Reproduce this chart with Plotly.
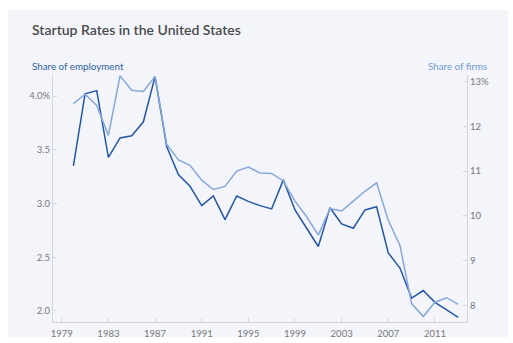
import plotly.graph_objects as go

years = list(range(1980, 2014))
employment_share = [3.35, 4.02, 4.05, 3.43, 3.61, 3.63, 3.76, 4.18, 3.53, 3.27,
                    3.16, 2.98, 3.07, 2.85, 3.07, 3.02, 2.98, 2.95, 3.22, 2.94,
                    2.77, 2.60, 2.96, 2.81, 2.77, 2.94, 2.97, 2.54, 2.40, 2.12,
                    2.19, 2.08, 2.01, 1.94]
firm_share = [12.51, 12.72, 12.47, 11.80, 13.13, 12.81, 12.78, 13.12, 11.60, 11.25,
              11.13, 10.80, 10.59, 10.66, 11.00, 11.09, 10.96, 10.95, 10.78, 10.33,
              9.98, 9.57, 10.16, 10.11, 10.33, 10.55, 10.74, 9.90, 9.34, 8.04,
              7.75, 8.07, 8.17, 8.02]
x_ticks = list(range(1979, 2012, 4))
left_ticks = [2.0, 2.5, 3.0, 3.5, 4.0]
left_labels = ["2.0", "2.5", "3.0", "3.5", "4.0%"]
right_ticks = [8, 9, 10, 11, 12, 13]
right_labels = ["8", "9", "10", "11", "12", "13%"]

W, H = 513, 343
L, R, T, B = 53, 466.7, 75, 321.7
pw, ph = R - L, B - T

def px(x):
    return (x - L) / pw

def py(y):
    return (B - y) / ph

panel = "#f3f5fa"
dark = "#2457a6"
light = "#86a8d8"
axis_col = "#d3d6dd"
tick_font = dict(family="Lato, 'Open Sans', sans-serif", size=9.5, color="#777777")

fig = go.Figure()
fig.add_trace(go.Scatter(x=years, y=firm_share, mode="lines", yaxis="y2",
                         line=dict(color=light, width=1.5), name="Share of firms"))
fig.add_trace(go.Scatter(x=years, y=employment_share, mode="lines", yaxis="y",
                         line=dict(color=dark, width=1.5), name="Share of employment"))

fig.update_layout(
    width=W, height=H,
    margin=dict(l=L, r=W - R, t=T, b=H - B, pad=0, autoexpand=False),
    paper_bgcolor="white",
    plot_bgcolor=panel,
    showlegend=False,
    xaxis=dict(range=[1978.25, 2013.75], tickvals=x_ticks, showgrid=False, zeroline=False,
               showline=True, linecolor=axis_col, linewidth=1, ticklabelstandoff=3,
               automargin=False,
               ticks="inside", ticklen=4, tickcolor=axis_col, tickfont=tick_font),
    yaxis=dict(range=[1.8976, 4.1955], tickvals=left_ticks, ticktext=left_labels,
               showgrid=False, zeroline=False, showline=True, linecolor=axis_col,
               automargin=False,
               ticks="inside", ticklen=4, tickcolor=axis_col, tickfont=tick_font),
    yaxis2=dict(range=[7.627, 13.15], tickvals=right_ticks, ticktext=right_labels,
                overlaying="y", side="right", showgrid=False, zeroline=False,
                showline=True, linecolor=axis_col, automargin=False,
                ticks="inside", ticklen=4, tickcolor=axis_col, tickfont=tick_font),
    shapes=[dict(type="rect", xref="paper", yref="paper", layer="below",
                 x0=px(8), x1=px(508), y0=py(337), y1=py(10),
                 fillcolor=panel, line=dict(width=0))],
    annotations=[
        dict(text="Startup Rates in the United States", xref="paper", yref="paper",
             x=px(30), y=py(30), xanchor="left", yanchor="middle", showarrow=False,
             font=dict(family="Lato, sans-serif", size=14, color="#4a4a4a", weight=600)),
        dict(text="Share of employment", xref="paper", yref="paper",
             x=px(30), y=py(66), xanchor="left", yanchor="middle", showarrow=False,
             font=dict(family="Lato, sans-serif", size=9.8, color="#2d5fa6")),
        dict(text="Share of firms", xref="paper", yref="paper",
             x=px(489), y=py(66), xanchor="right", yanchor="middle", showarrow=False,
             font=dict(family="Lato, sans-serif", size=9.8, color="#6f9bd4")),
    ],
)

fig.write_html("out.html")
